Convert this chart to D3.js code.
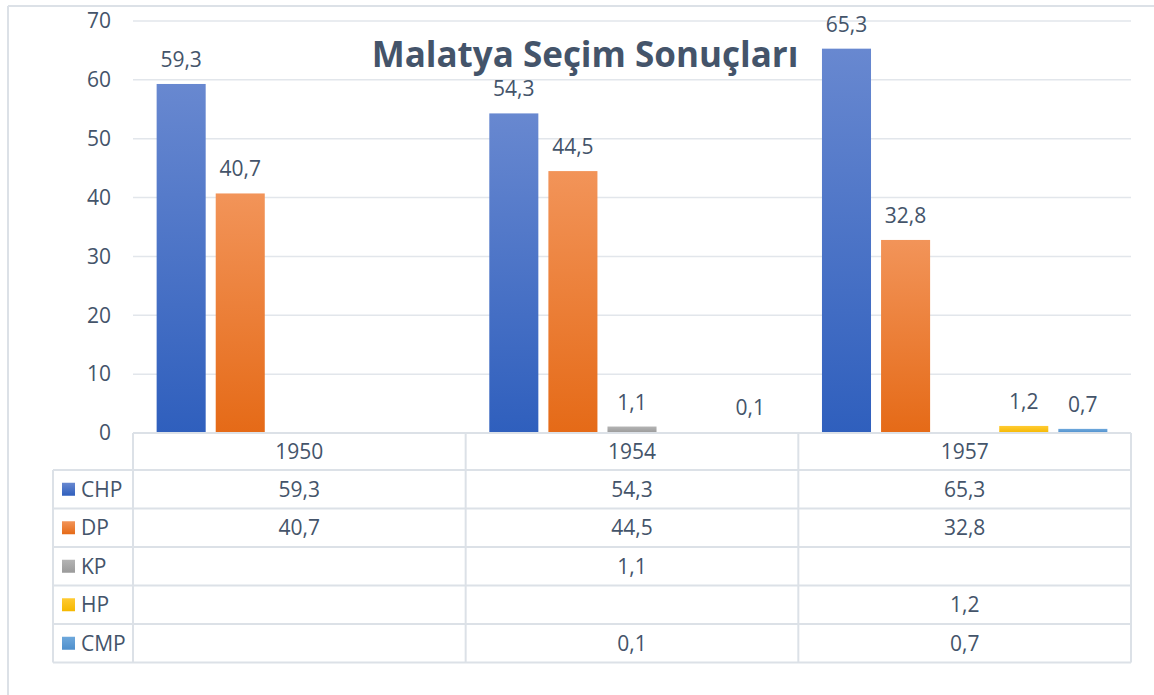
<!DOCTYPE html>
<html lang="tr">
<head>
<meta charset="utf-8">
<title>Malatya Seçim Sonuçları</title>
<script src="https://d3js.org/d3.v7.min.js"></script>
<style>
  body { margin: 0; background: #fff; }
  svg text { font-family: "Open Sans", "Noto Sans", sans-serif; fill: #44546a; }
</style>
</head>
<body>
<div id="chart"></div>
<script>
// chart data
var years = ["1950", "1954", "1957"];
var parties = ["CHP", "DP", "KP", "HP", "CMP"];
var chp = [59.3, 54.3, 65.3];
var dp = [40.7, 44.5, 32.8];
var kp = [null, 1.1, null];
var hp = [null, null, 1.2];
var cmp = [null, 0.1, 0.7];
var yTicks = [0, 10, 20, 30, 40, 50, 60, 70];

var seriesValues = { CHP: chp, DP: dp, KP: kp, HP: hp, CMP: cmp };
// top / bottom gradient colours per party
var colours = {
  CHP: ["#6888d0", "#2f5fbd"],
  DP: ["#f29459", "#e56a17"],
  KP: ["#b4b4b4", "#9a9a9a"],
  HP: ["#ffcb33", "#f5b800"],
  CMP: ["#6ea8dc", "#4f8fcc"]
};

var W = 1154, H = 695;
var plot = { left: 133, right: 1131, top: 21, bottom: 433 };
var rowH = 38.5, headerH = 37, legendLeft = 53;
var lineCol = "#dce1e7";
var fs = "21px";

var svg = d3.select("#chart").append("svg")
  .attr("width", W).attr("height", H);

// gradients
var defs = svg.append("defs");
parties.forEach(function(p) {
  var g = defs.append("linearGradient")
    .attr("id", "grad-" + p)
    .attr("x1", 0).attr("y1", 0).attr("x2", 0).attr("y2", 1);
  g.append("stop").attr("offset", "0%").attr("stop-color", colours[p][0]);
  g.append("stop").attr("offset", "100%").attr("stop-color", colours[p][1]);
});

// outer frame (top and left edges)
svg.append("line").attr("x1", 8).attr("y1", 6).attr("x2", W).attr("y2", 6)
  .attr("stroke", lineCol).attr("stroke-width", 2);
svg.append("line").attr("x1", 8).attr("y1", 6).attr("x2", 8).attr("y2", H)
  .attr("stroke", lineCol).attr("stroke-width", 2);

// scales
var x0 = d3.scaleBand().domain(years).range([plot.left, plot.right]);
var x1 = d3.scaleBand().domain(parties).range([0, x0.bandwidth()])
  .paddingInner(0.17).paddingOuter(0.4);
var y = d3.scaleLinear().domain([0, 70]).range([plot.bottom, plot.top]);

// gridlines
svg.append("g").selectAll("line").data(yTicks).join("line")
  .attr("x1", plot.left).attr("x2", plot.right)
  .attr("y1", function(d) { return y(d); })
  .attr("y2", function(d) { return y(d); })
  .attr("stroke", "#e2e6eb").attr("stroke-width", 1.5);

// y axis labels
var yAxis = svg.append("g")
  .attr("transform", "translate(" + (plot.left - 22) + ",0)")
  .call(d3.axisLeft(y).tickValues(yTicks).tickSize(0).tickPadding(0));
yAxis.select(".domain").remove();
yAxis.selectAll("text")
  .style("font-size", fs)
  .style("font-family", "'Open Sans', 'Noto Sans', sans-serif")
  .attr("fill", "#44546a");

// flat list of bars
var bars = [];
years.forEach(function(yr, i) {
  parties.forEach(function(p) {
    var v = seriesValues[p][i];
    if (v !== null) bars.push({ year: yr, party: p, value: v });
  });
});

svg.append("g").selectAll("rect").data(bars).join("rect")
  .attr("x", function(d) { return x0(d.year) + x1(d.party); })
  .attr("y", function(d) { return y(d.value); })
  .attr("width", x1.bandwidth())
  .attr("height", function(d) { return y(0) - y(d.value); })
  .attr("fill", function(d) { return "url(#grad-" + d.party + ")"; });

// data labels
var fmt = function(v) { return String(v).replace(".", ","); };
svg.append("g").selectAll("text").data(bars).join("text")
  .attr("x", function(d) { return x0(d.year) + x1(d.party) + x1.bandwidth() / 2; })
  .attr("y", function(d) { return y(d.value) - 17; })
  .attr("text-anchor", "middle")
  .style("font-size", fs)
  .text(function(d) { return fmt(d.value); });

// title
svg.append("text")
  .attr("x", 585).attr("y", 67)
  .attr("text-anchor", "middle")
  .style("font-size", "35px")
  .style("font-weight", "bold")
  .text("Malatya Seçim Sonuçları");

// data table
var table = svg.append("g");
var tTop = plot.bottom;
var rowsTop = tTop + headerH;
var tBottom = rowsTop + rowH * parties.length;

// horizontal lines
table.append("line").attr("x1", plot.left).attr("x2", plot.right)
  .attr("y1", tTop).attr("y2", tTop);
d3.range(parties.length + 1).forEach(function(i) {
  table.append("line").attr("x1", legendLeft).attr("x2", plot.right)
    .attr("y1", rowsTop + i * rowH).attr("y2", rowsTop + i * rowH);
});
// vertical lines
table.append("line").attr("x1", legendLeft).attr("x2", legendLeft)
  .attr("y1", rowsTop).attr("y2", tBottom);
years.forEach(function(yr) {
  table.append("line").attr("x1", x0(yr)).attr("x2", x0(yr))
    .attr("y1", tTop).attr("y2", tBottom);
});
table.append("line").attr("x1", plot.right).attr("x2", plot.right)
  .attr("y1", tTop).attr("y2", tBottom);
table.selectAll("line").attr("stroke", lineCol).attr("stroke-width", 2);

// header years
table.selectAll("text.year").data(years).join("text")
  .attr("class", "year")
  .attr("x", function(d) { return x0(d) + x0.bandwidth() / 2; })
  .attr("y", tTop + headerH / 2 + 7.5)
  .attr("text-anchor", "middle")
  .style("font-size", fs)
  .text(function(d) { return d; });

// legend column + values
parties.forEach(function(p, r) {
  var cy = rowsTop + r * rowH + rowH / 2;
  table.append("rect")
    .attr("x", 62).attr("y", cy - 6.5)
    .attr("width", 13).attr("height", 13)
    .attr("fill", "url(#grad-" + p + ")");
  table.append("text")
    .attr("x", 81).attr("y", cy + 7.5)
    .style("font-size", fs)
    .text(p);
  years.forEach(function(yr, i) {
    var v = seriesValues[p][i];
    if (v === null) return;
    table.append("text")
      .attr("x", x0(yr) + x0.bandwidth() / 2)
      .attr("y", cy + 7.5)
      .attr("text-anchor", "middle")
      .style("font-size", fs)
      .text(fmt(v));
  });
});
</script>
</body>
</html>
